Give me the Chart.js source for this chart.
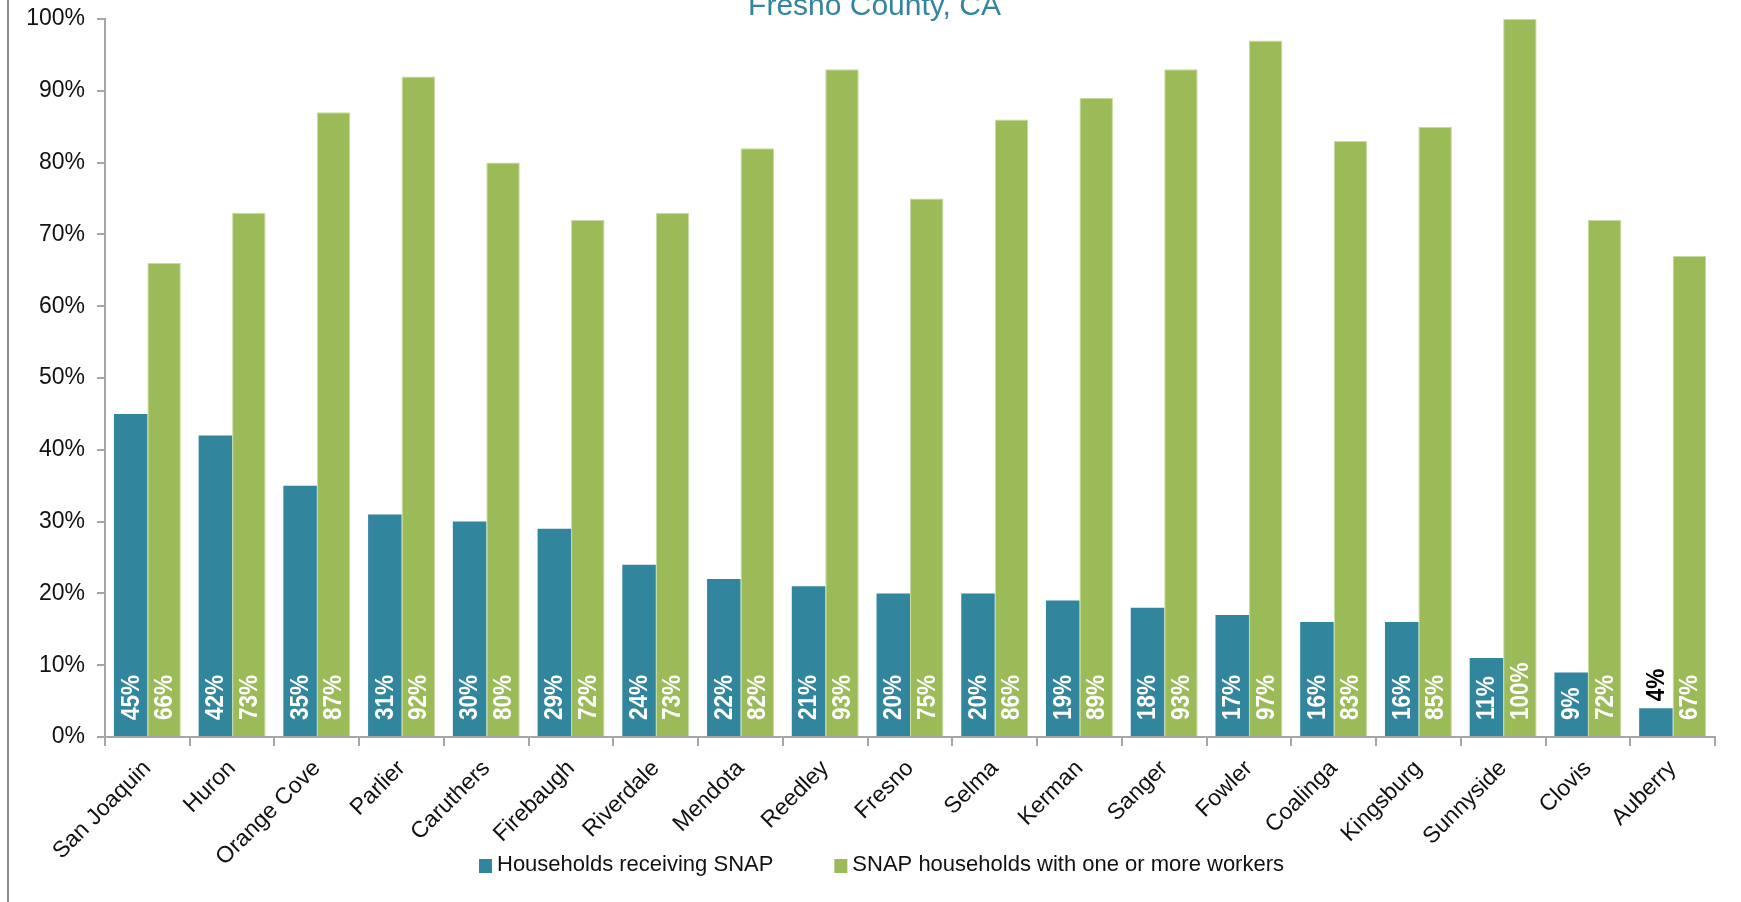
<!DOCTYPE html>
<html>
<head>
<meta charset="utf-8">
<script src="https://cdn.jsdelivr.net/npm/chart.js@4.4.1/dist/chart.umd.min.js"></script>
<style>
    html, body { margin: 0; padding: 0; background: #fff; }
    #wrap { position: relative; width: 1741px; height: 902px; overflow: hidden; }
    #frame { position: absolute; left: 7px; top: 0; width: 2px; height: 902px; background: #8c8c8c; }
</style>
</head>
<body>
<div id="wrap">
    <canvas id="Chart-1" width="1741" height="902"></canvas>
    <div id="frame"></div>
</div>
<script>
const chartTitle = 'Fresno County, CA';
const cities = ['San Joaquin', 'Huron', 'Orange Cove', 'Parlier', 'Caruthers', 'Firebaugh', 'Riverdale',
    'Mendota', 'Reedley', 'Fresno', 'Selma', 'Kerman', 'Sanger', 'Fowler', 'Coalinga', 'Kingsburg',
    'Sunnyside', 'Clovis', 'Auberry'];
const snapShare = [45, 42, 35, 31, 30, 29, 24, 22, 21, 20, 20, 19, 18, 17, 16, 16, 11, 9, 4];
const workerShare = [66, 73, 87, 92, 80, 72, 73, 82, 93, 75, 86, 89, 93, 97, 83, 85, 100, 72, 67];
const yTicks = [0, 10, 20, 30, 40, 50, 60, 70, 80, 90, 100];

const FONT = '"Liberation Sans", Arial, sans-serif';
const TEAL = '#31859C';
const GREEN = '#9BBB59';
const AXIS = '#a6a6a6';

// values written at the base of each bar, rotated; short bars get it above in black
const barLabels = {
    id: 'barLabels',
    afterDatasetsDraw(chart) {
        const ctx = chart.ctx;
        ctx.save();
        ctx.font = 'bold 25px ' + FONT;
        ctx.textBaseline = 'middle';
        ctx.textAlign = 'left';
        chart.data.datasets.forEach((ds, i) => {
            chart.getDatasetMeta(i).data.forEach((bar, j) => {
                const text = ds.data[j] + '%';
                const w = ctx.measureText(text).width * 0.9;
                const inside = w + 22 < bar.base - bar.y;
                ctx.save();
                ctx.translate(bar.x + 1, inside ? bar.base - 16 : bar.y - 7);
                ctx.rotate(-Math.PI / 2);
                ctx.scale(0.9, 1);
                ctx.fillStyle = inside ? '#fff' : '#000';
                ctx.fillText(text, 0, 0);
                ctx.restore();
            });
        });
        ctx.restore();
    }
};

// title sits partly cut off at the top edge
const topTitle = {
    id: 'topTitle',
    afterDraw(chart) {
        const ctx = chart.ctx;
        ctx.save();
        ctx.font = '30px ' + FONT;
        ctx.fillStyle = TEAL;
        ctx.textAlign = 'center';
        ctx.textBaseline = 'alphabetic';
        ctx.fillText(chartTitle, chart.width / 2 + 4, 15);
        ctx.restore();
    }
};

const bottomLegend = {
    id: 'bottomLegend',
    afterDraw(chart) {
        const ctx = chart.ctx;
        ctx.save();
        ctx.font = '22px ' + FONT;
        ctx.textBaseline = 'middle';
        const box = 13, gapText = 5, gapItem = 61;
        const items = chart.data.datasets.map(ds => ({
            text: ds.label,
            color: ds.backgroundColor,
            w: ctx.measureText(ds.label).width
        }));
        const total = items.reduce((s, it) => s + box + gapText + it.w, 0) + gapItem * (items.length - 1);
        let x = chart.width / 2 + 11 - total / 2;
        const y = 865;
        items.forEach(it => {
            ctx.fillStyle = it.color;
            ctx.fillRect(x, y - 6, box, 14);
            x += box + gapText;
            ctx.fillStyle = '#111';
            ctx.fillText(it.text, x, y);
            x += it.w + gapItem;
        });
        ctx.restore();
    }
};

new Chart(document.getElementById('Chart-1'), {
    type: 'bar',
    data: {
        labels: cities,
        datasets: [{
            label: 'Households receiving SNAP',
            data: snapShare,
            backgroundColor: TEAL,
            borderWidth: 0
        }, {
            label: 'SNAP households with one or more workers',
            data: workerShare,
            backgroundColor: GREEN,
            borderColor: '#c7dba0',
            borderWidth: 1,
            borderSkipped: 'bottom'
        }]
    },
    options: {
        responsive: false,
        animation: false,
        layout: {
            padding: { left: 0, right: 26, top: 19, bottom: 5 }
        },
        datasets: {
            bar: { categoryPercentage: 0.79, barPercentage: 1.0 }
        },
        plugins: {
            legend: { display: false },
            tooltip: { enabled: false }
        },
        scales: {
            x: {
                grid: {
                    offset: true,
                    drawOnChartArea: false,
                    drawTicks: true,
                    tickLength: 9,
                    color: AXIS,
                    lineWidth: 2
                },
                border: { color: AXIS, width: 2 },
                ticks: {
                    autoSkip: false,
                    minRotation: 45,
                    maxRotation: 45,
                    padding: 9,
                    color: '#111',
                    font: { size: 23, family: FONT }
                },
                afterFit: s => { s.height = 160; }
            },
            y: {
                min: 0,
                max: 100,
                afterBuildTicks: s => { s.ticks = yTicks.map(v => ({ value: v })); },
                ticks: {
                    callback: v => v + '%',
                    padding: 12,
                    color: '#111',
                    font: { size: 23, family: FONT, lineHeight: 0.5 }
                },
                grid: {
                    drawOnChartArea: false,
                    tickLength: 8,
                    color: AXIS,
                    lineWidth: 2
                },
                border: { color: AXIS, width: 2 },
                afterFit: s => { s.width = 105; }
            }
        }
    },
    plugins: [barLabels, topTitle, bottomLegend]
});
</script>
</body>
</html>
